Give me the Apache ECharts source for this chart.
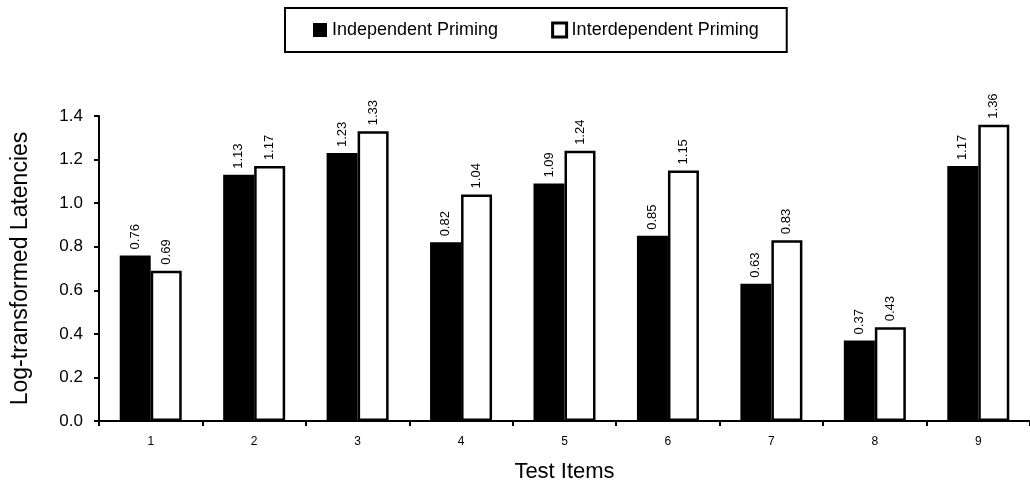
<!DOCTYPE html>
<html>
<head>
<meta charset="utf-8">
<script src="https://cdn.jsdelivr.net/npm/echarts@6/dist/echarts.min.js"></script>
<style>
html,body{margin:0;padding:0;background:#fff;}
#chart{width:1030px;height:488px;}
</style>
</head>
<body>
<div id="chart"></div>
<script>
const categories = ['1','2','3','4','5','6','7','8','9'];
const independent = [0.76, 1.13, 1.23, 0.82, 1.09, 0.85, 0.63, 0.37, 1.17];
const interdependent = [0.69, 1.17, 1.33, 1.04, 1.24, 1.15, 0.83, 0.43, 1.36];
const yTicks = { min: 0, max: 1.4, interval: 0.2 };

const FONT = '"Liberation Sans", Arial, sans-serif';
const chart = echarts.init(document.getElementById('chart'), null, {renderer:'canvas'});

const valueLabel = {
  show: true,
  position: 'top',
  rotate: 90,
  align: 'left',
  verticalAlign: 'middle',
  distance: 6,
  fontFamily: FONT,
  fontSize: 13,
  color: '#000',
  formatter: p => p.value.toFixed(2)
};

chart.setOption({
  animation: false,
  backgroundColor: '#fff',
  textStyle: { fontFamily: FONT, color: '#000' },
  legend: {
    left: 285,
    top: 8,
    padding: [13, 28, 13, 28],
    borderColor: '#000',
    borderWidth: 2,
    itemGap: 53,
    itemWidth: 14,
    itemHeight: 14,
    textStyle: { fontFamily: FONT, fontSize: 18, color: '#000' },
    data: [
      { name: 'Independent Priming', icon: 'rect', itemStyle: { color: '#000', borderWidth: 0 } },
      { name: 'Interdependent Priming', icon: 'rect', itemStyle: { color: '#fff', borderColor: '#000', borderWidth: 3 } }
    ]
  },
  grid: { left: 99, right: -9, top: 116, bottom: 64, containLabel: false },
  xAxis: {
    type: 'category',
    data: categories,
    name: 'Test Items',
    nameLocation: 'middle',
    nameGap: 40,
    nameTextStyle: { fontFamily: FONT, fontSize: 22, color: '#000' },
    axisLine: { lineStyle: { color: '#000', width: 2 } },
    axisTick: { show: true, length: 5, lineStyle: { color: '#000', width: 2 } },
    axisLabel: { fontFamily: FONT, fontSize: 12, color: '#000', margin: 15 },
    splitLine: { show: false }
  },
  yAxis: {
    type: 'value',
    min: yTicks.min,
    max: yTicks.max,
    interval: yTicks.interval,
    name: 'Log-transformed Latencies',
    nameLocation: 'middle',
    nameGap: 67,
    nameTextStyle: { fontFamily: FONT, fontSize: 23, color: '#000' },
    axisLine: { show: true, lineStyle: { color: '#000', width: 2 } },
    axisTick: { show: true, length: 5, lineStyle: { color: '#000', width: 2 } },
    axisLabel: { fontFamily: FONT, fontSize: 17, color: '#000', margin: 16, formatter: v => v.toFixed(1) },
    splitLine: { show: false }
  },
  series: [
    {
      name: 'Independent Priming',
      type: 'bar',
      data: independent,
      barWidth: 31,
      barGap: '0%',
      itemStyle: { color: '#000' },
      label: valueLabel
    },
    {
      name: 'Interdependent Priming',
      type: 'bar',
      data: interdependent,
      barWidth: 31,
      barGap: '0%',
      itemStyle: { color: '#fff', borderColor: '#000', borderWidth: 2.5 },
      label: valueLabel
    }
  ]
});
</script>
</body>
</html>
